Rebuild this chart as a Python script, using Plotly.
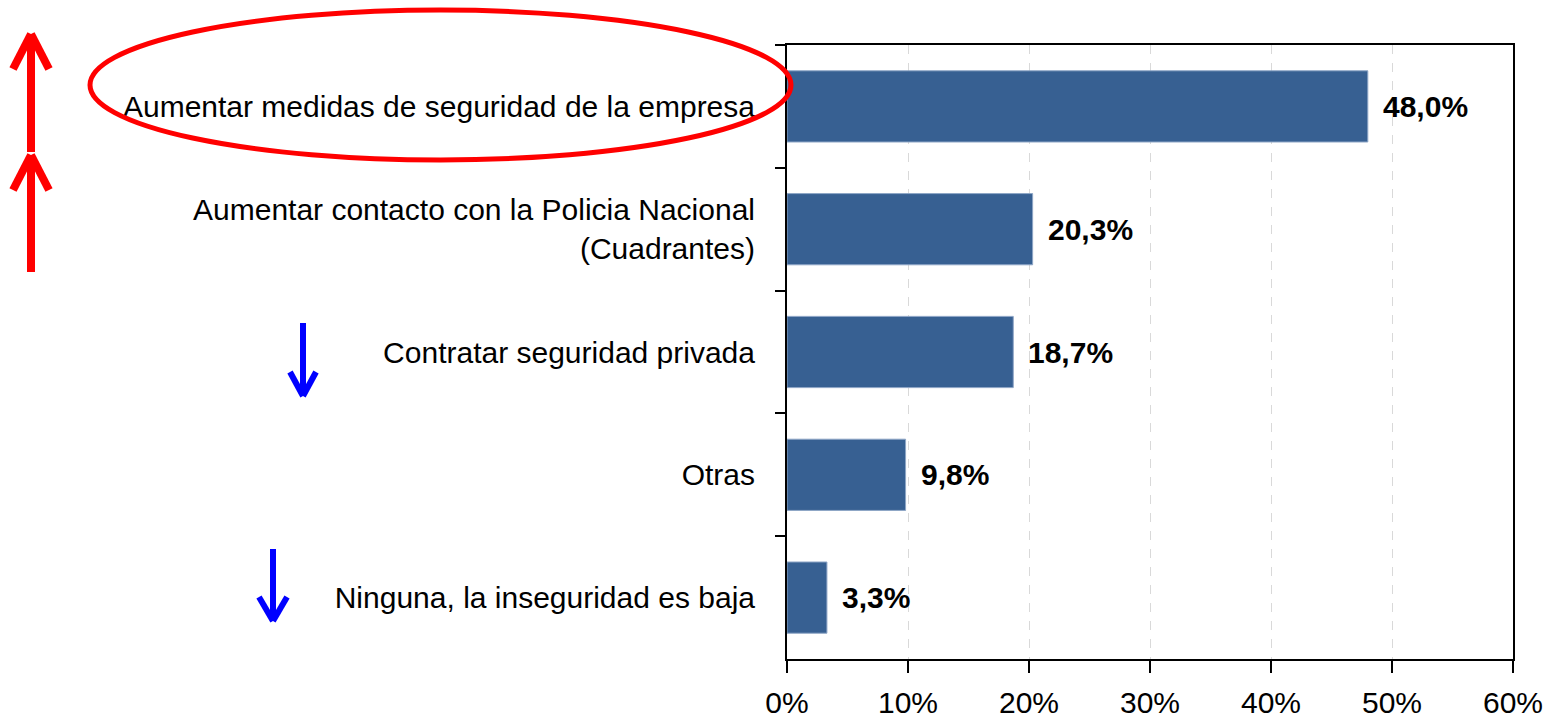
import plotly.graph_objects as go

# ---- data ----
categories = [
    "Aumentar medidas de seguridad de la empresa",
    "Aumentar contacto con la Policia Nacional<br>(Cuadrantes)",
    "Contratar seguridad privada",
    "Otras",
    "Ninguna, la inseguridad es baja",
]
values = [48.0, 20.3, 18.7, 9.8, 3.3]
x_ticks = [0, 10, 20, 30, 40, 50, 60]
x_tick_labels = ["0%", "10%", "20%", "30%", "40%", "50%", "60%"]

W, H = 1546, 721
ML, MR, MT, MB = 787, 33, 45, 62
PW, PH = W - ML - MR, H - MT - MB

FONT = "Liberation Sans Narrow, Arial Narrow, Liberation Sans, Arial, sans-serif"
BAR = "#376092"


def px(x):
    return (x - ML) / PW


def py(y):
    return (H - MB - y) / PH


fig = go.Figure()
fig.add_trace(go.Bar(
    x=values, y=categories, orientation="h",
    marker=dict(color=BAR, line=dict(color="#8EA6C6", width=1)),
    width=0.58, hoverinfo="x+y",
))

for c, v in zip(categories, values):
    fig.add_annotation(
        x=v, y=c, xref="x", yref="y", text="<b>" + f"{v:.1f}".replace(".", ",") + "%</b>",
        showarrow=False, xanchor="left", xshift=13,
        font=dict(family=FONT, size=30, color="black"),
    )

shapes = []
# ellipse around first label
shapes.append(dict(type="circle", xref="paper", yref="paper",
                   x0=px(90), x1=px(791), y0=py(160), y1=py(10),
                   line=dict(color="#FF0000", width=5)))


def arrow(x, y_tail, y_tip, dx, dy, color, width):
    s = [dict(type="line", xref="paper", yref="paper", x0=px(x), x1=px(x),
              y0=py(y_tail), y1=py(y_tip), line=dict(color=color, width=width))]
    sign = 1 if y_tail > y_tip else -1
    for d in (-dx, dx):
        s.append(dict(type="line", xref="paper", yref="paper",
                      x0=px(x + d), x1=px(x), y0=py(y_tip + sign * dy), y1=py(y_tip),
                      line=dict(color=color, width=width)))
    return s


shapes += arrow(31, 152, 34, 18, 35, "#FF0000", 8)
shapes += arrow(31, 272, 155, 18, 35, "#FF0000", 8)
shapes += arrow(303, 323, 396, 13, 24, "#0000FF", 6)
shapes += arrow(273, 549, 621, 14, 24, "#0000FF", 6)

fig.update_layout(
    width=W, height=H, autosize=False,
    margin=dict(l=ML, r=MR, t=MT, b=MB, pad=0, autoexpand=False),
    plot_bgcolor="white", paper_bgcolor="white",
    showlegend=False,
    shapes=shapes,
    font=dict(family=FONT, size=30, color="black"),
    xaxis=dict(
        range=[0, 60], tickvals=x_ticks, ticktext=x_tick_labels,
        showgrid=True, gridcolor="#D9D9D9", griddash="dash", gridwidth=1,
        showline=True, linecolor="black", linewidth=2, mirror=True,
        ticks="outside", ticklen=12, tickwidth=2, tickcolor="black",
        tickfont=dict(family=FONT, size=30, color="black"),
        zeroline=False, fixedrange=True, ticklabelstandoff=4, automargin=False,
    ),
    yaxis=dict(
        categoryorder="array", categoryarray=categories, autorange="reversed",
        showline=True, linecolor="black", linewidth=2, mirror=True,
        ticks="outside", ticklen=10, tickwidth=2, tickcolor="black",
        tickson="boundaries", showgrid=False,
        tickfont=dict(family=FONT, size=30, color="black"),
        ticklabelstandoff=24, fixedrange=True, automargin=False,
    ),
)

fig.write_html(
    "out.html",
    config={"displayModeBar": False},
    post_script="document.body.style.margin='0';document.body.style.padding='0';",
)
